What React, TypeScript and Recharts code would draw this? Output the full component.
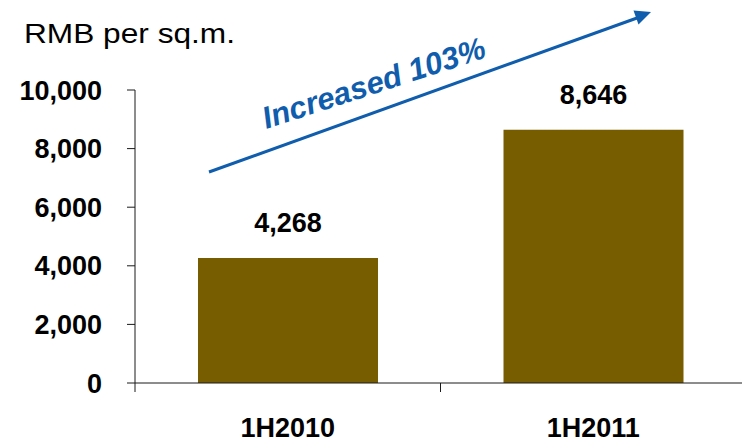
import React from 'react';
import { BarChart, Bar, XAxis, YAxis, LabelList } from 'recharts';

// Average selling price per half-year period
const periods = ['1H2010', '1H2011'];
const pricePerSqm = [4268, 8646];
const priceTicks = [0, 2000, 4000, 6000, 8000, 10000];
const unitLabel = 'RMB per sq.m.';
const growthLabel = 'Increased 103%';

const data = periods.map((period, i) => ({ period, price: pricePerSqm[i] }));

const FONT = 'Arial, "Liberation Sans", Helvetica, sans-serif';
const BAR_COLOR = '#785D00';
const AXIS_COLOR = '#1a1a1a';
const ACCENT = '#0F5DAC';

const CHART_W = 760;
const CHART_H = 439;
const Y_AXIS_W = 135;
const X_AXIS_H = 56;
const MARGIN = { top: 90, right: 14, bottom: 0, left: 0 };
const HALF_BAND = (CHART_W - MARGIN.right - Y_AXIS_W) / periods.length / 2;

const fmt = (v: number) => v.toLocaleString('en-US');

// Category tick: label centred under the bar, small tick mark at the band's left edge
const PeriodTick = (props: any) => {
  const { x, y, payload } = props;
  const half = HALF_BAND;
  return (
    <g>
      <line x1={x - half} x2={x - half} y1={y} y2={y + 9} stroke={AXIS_COLOR} strokeWidth={1} />
      <text
        x={x}
        y={y + 54}
        textAnchor="middle"
        fontFamily={FONT}
        fontWeight="bold"
        fontSize={27}
        fill="#000"
      >
        {payload.value}
      </text>
    </g>
  );
};

export default function App() {
  return (
    <div style={{ position: 'absolute', left: 0, top: 0, width: 742, height: 439, overflow: 'hidden', background: '#fff' }}>
      <BarChart width={CHART_W} height={CHART_H} data={data} margin={MARGIN}>
        <XAxis
          dataKey="period"
          height={X_AXIS_H}
          tickLine={false}
          tickSize={0}
          tickMargin={0}
          axisLine={{ stroke: AXIS_COLOR, strokeWidth: 1 }}
          tick={<PeriodTick />}
          interval={0}
        />
        <YAxis
          width={Y_AXIS_W}
          domain={[0, 10000]}
          ticks={priceTicks}
          tickFormatter={fmt}
          tickSize={8}
          tickMargin={25}
          axisLine={{ stroke: AXIS_COLOR, strokeWidth: 1 }}
          tickLine={{ stroke: AXIS_COLOR, strokeWidth: 1 }}
          tick={{ fontFamily: FONT, fontWeight: 'bold', fontSize: 27, fill: '#000' }}
          interval={0}
        />
        <Bar dataKey="price" fill={BAR_COLOR} barSize={180} isAnimationActive={false}>
          <LabelList
            dataKey="price"
            position="top"
            offset={26}
            formatter={(v: any) => fmt(Number(v))}
            style={{ fontFamily: FONT, fontWeight: 'bold', fontSize: 27, fill: '#000' }}
          />
        </Bar>
      </BarChart>
      <svg
        width={742}
        height={439}
        style={{ position: 'absolute', left: 0, top: 0, pointerEvents: 'none' }}
      >
        <text x={24} y={43} fontFamily={FONT} fontSize={27} fill="#000" textLength={211} lengthAdjust="spacingAndGlyphs">
          {unitLabel}
        </text>
        <line x1={209} y1={172} x2={637} y2={18} stroke={ACCENT} strokeWidth={3} />
        <polygon points="651,12 638.5,24.5 633.5,10.5" fill={ACCENT} />
        <text
          x={377}
          y={93}
          textAnchor="middle"
          fontFamily={FONT}
          fontWeight="bold"
          fontStyle="italic"
          fontSize={31}
          fill={ACCENT}
          transform="rotate(-18 377 93)"
        >
          {growthLabel}
        </text>
      </svg>
    </div>
  );
}
